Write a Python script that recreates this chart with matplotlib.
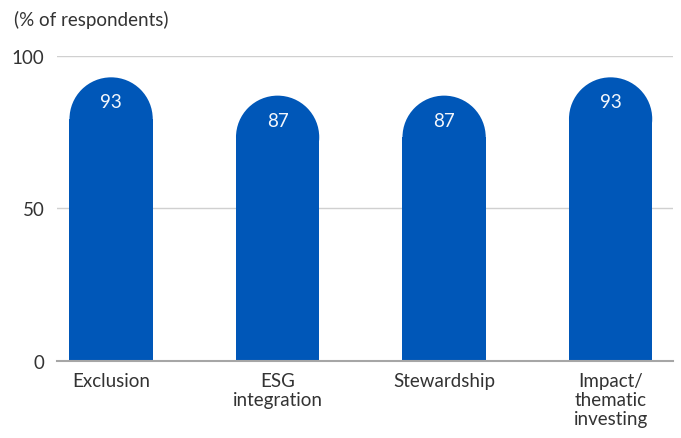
import matplotlib.pyplot as plt
from matplotlib.patches import Ellipse

categories = ["Exclusion", "ESG\nintegration", "Stewardship", "Impact/\nthematic\ninvesting"]
values = [93, 87, 87, 93]
yticks = [0, 50, 100]

blue = "#0057b8"
plt.rcParams['font.family'] = ['Lato', 'DejaVu Sans']

fig = plt.figure(figsize=(6.81, 4.39), dpi=100)
ax = fig.add_axes([0.0837, 0.1754, 0.9046, 0.6948])
ax.set_xlim(-0.325, 3.375)
ax.set_ylim(0, 100)

width = 0.5
# radius of the round top in y data units so that it looks like a semicircle
bbox = ax.get_window_extent()
px_per_x = bbox.width / (3.375 + 0.325)
px_per_y = bbox.height / 100
ry = (width / 2) * px_per_x / px_per_y

x = range(len(values))
ax.bar(x, [v - ry for v in values], width=width, color=blue, zorder=3)
for xi, v in zip(x, values):
    ax.add_patch(Ellipse((xi, v - ry), width, 2 * ry, color=blue, zorder=3, lw=0))
    ax.text(xi, v - 8, str(v), color="#f4f7fc", ha="center", va="center",
            fontsize=13.5, zorder=4)

ax.set_yticks(yticks)
ax.set_yticklabels([str(t) for t in yticks], fontsize=13.5, color="#333333")
ax.set_xticks(list(x))
ax.set_xticklabels(categories, fontsize=13.5, color="#333333", va="top", linespacing=1.15)
ax.tick_params(axis="both", length=0)
ax.tick_params(axis="y", pad=9)
ax.tick_params(axis="x", pad=8)
ax.grid(axis="y", color="#d0d0d0", lw=1, zorder=0)
for s in ["top", "right", "left"]:
    ax.spines[s].set_visible(False)
ax.spines["bottom"].set_color("#a6a6a6")
ax.spines["bottom"].set_linewidth(1.5)
ax.spines["bottom"].set_zorder(5)

fig.text(14 / 681, 1 - 20 / 439, "(% of respondents)", fontsize=13.5, color="#333333", va="center", ha="left")

fig.savefig("out.png", dpi=100)
